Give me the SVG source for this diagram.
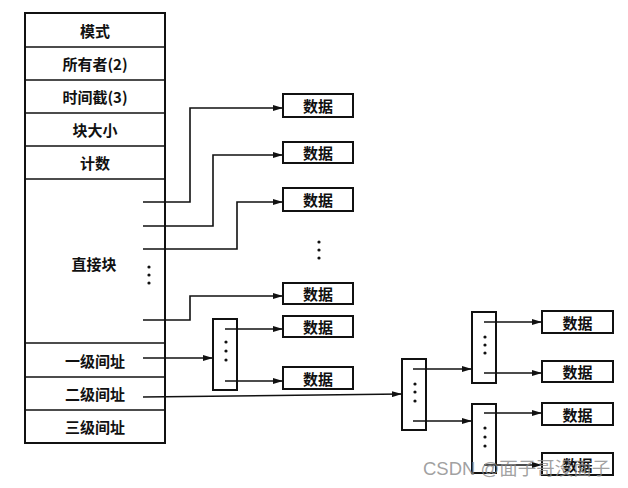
<svg xmlns="http://www.w3.org/2000/svg" width="628" height="488" viewBox="0 0 628 488">
<style>
.box{fill:#fff;stroke:#111;stroke-width:2}
.cell{fill:#fff;stroke:#111;stroke-width:2}
.t{font-family:"Noto Sans CJK SC","Noto Sans",sans-serif;font-size:15px;font-weight:bold;fill:#111;text-anchor:middle;dominant-baseline:central}
.ln{fill:none;stroke:#111;stroke-width:1.6}
.dot{fill:#111}
.wm{font-family:"Liberation Sans","Noto Sans CJK SC",sans-serif;font-size:18.5px;fill:#888;fill-opacity:0.8}
</style>
<defs>
<marker id="ah" viewBox="0 0 10 6" refX="10" refY="3" markerWidth="10" markerHeight="6" markerUnits="userSpaceOnUse" orient="auto">
<path d="M0,0 L10,3 L0,6 Z" fill="#111"/>
</marker>
</defs>
<rect width="628" height="488" fill="#fff"/>

<g id="inode">
<rect class="cell" x="25" y="13" width="140" height="430"/>
<line class="ln" x1="25" y1="47" x2="165" y2="47" stroke-width="2"/>
<line class="ln" x1="25" y1="80" x2="165" y2="80" stroke-width="2"/>
<line class="ln" x1="25" y1="113" x2="165" y2="113" stroke-width="2"/>
<line class="ln" x1="25" y1="146" x2="165" y2="146" stroke-width="2"/>
<line class="ln" x1="25" y1="179" x2="165" y2="179" stroke-width="2"/>
<line class="ln" x1="25" y1="343" x2="165" y2="343" stroke-width="2"/>
<line class="ln" x1="25" y1="377" x2="165" y2="377" stroke-width="2"/>
<line class="ln" x1="25" y1="410" x2="165" y2="410" stroke-width="2"/>
<text class="t" x="95" y="30">模式</text>
<text class="t" x="95" y="63">所有者(2)</text>
<text class="t" x="95" y="96">时间截(3)</text>
<text class="t" x="95" y="129">块大小</text>
<text class="t" x="95" y="162">计数</text>
<text class="t" x="94" y="263">直接块</text>
<circle class="dot" cx="149" cy="267" r="1.6"/>
<circle class="dot" cx="149" cy="275" r="1.6"/>
<circle class="dot" cx="149" cy="283" r="1.6"/>
<text class="t" x="95" y="360">一级间址</text>
<text class="t" x="95" y="393">二级间址</text>
<text class="t" x="95" y="426">三级间址</text>
</g>

<g id="d1"><rect class="box" x="283" y="94" width="70" height="23"/><text class="t" x="318" y="105.5">数据</text></g>
<g id="d2"><rect class="box" x="283" y="142" width="70" height="21"/><text class="t" x="318" y="152.5">数据</text></g>
<g id="d3"><rect class="box" x="283" y="188" width="70" height="23"/><text class="t" x="318" y="199.5">数据</text></g>
<g id="dots-mid">
<circle class="dot" cx="319" cy="242" r="1.6"/>
<circle class="dot" cx="319" cy="250" r="1.6"/>
<circle class="dot" cx="319" cy="258" r="1.6"/>
</g>
<g id="d4"><rect class="box" x="283" y="283" width="70" height="21"/><text class="t" x="318" y="293.5">数据</text></g>
<g id="d5"><rect class="box" x="283" y="316" width="70" height="21"/><text class="t" x="318" y="326.5">数据</text></g>
<g id="d6"><rect class="box" x="283" y="367" width="70" height="22"/><text class="t" x="318" y="378">数据</text></g>

<g id="idx1">
<rect class="box" x="213" y="319" width="24" height="71"/>
<circle class="dot" cx="226" cy="342" r="1.6"/>
<circle class="dot" cx="226" cy="351" r="1.6"/>
<circle class="dot" cx="226" cy="360" r="1.6"/>
</g>
<g id="idxA">
<rect class="box" x="402" y="359" width="24" height="71"/>
<circle class="dot" cx="415" cy="384" r="1.6"/>
<circle class="dot" cx="415" cy="392" r="1.6"/>
<circle class="dot" cx="415" cy="401" r="1.6"/>
</g>
<g id="idxB">
<rect class="box" x="472" y="312" width="24" height="71"/>
<circle class="dot" cx="485" cy="337" r="1.6"/>
<circle class="dot" cx="485" cy="345" r="1.6"/>
<circle class="dot" cx="485" cy="353" r="1.6"/>
</g>
<g id="idxC">
<rect class="box" x="472" y="404" width="24" height="69"/>
<circle class="dot" cx="485" cy="428" r="1.6"/>
<circle class="dot" cx="485" cy="437" r="1.6"/>
<circle class="dot" cx="485" cy="446" r="1.6"/>
</g>

<g id="e1"><rect class="box" x="542" y="311" width="71" height="22"/><text class="t" x="577.5" y="322">数据</text></g>
<g id="e2"><rect class="box" x="542" y="361" width="71" height="21"/><text class="t" x="577.5" y="371.5">数据</text></g>
<g id="e3"><rect class="box" x="542" y="403" width="71" height="22"/><text class="t" x="577.5" y="414">数据</text></g>
<g id="e4"><rect class="box" x="542" y="453" width="71" height="22"/><text class="t" x="577.5" y="464">数据</text></g>

<g id="connectors">
<polyline class="ln" points="143,202 190,202 190,108 283,108" marker-end="url(#ah)"/>
<polyline class="ln" points="143,226 213,226 213,155 283,155" marker-end="url(#ah)"/>
<polyline class="ln" points="143,249 237,249 237,202 283,202" marker-end="url(#ah)"/>
<polyline class="ln" points="143,320 190,320 190,296 283,296" marker-end="url(#ah)"/>
<line class="ln" x1="143" y1="358" x2="213" y2="358" marker-end="url(#ah)"/>
<line class="ln" x1="225" y1="329" x2="283" y2="329" marker-end="url(#ah)"/>
<line class="ln" x1="225" y1="381" x2="283" y2="381" marker-end="url(#ah)"/>
<line class="ln" x1="143" y1="397" x2="402" y2="394" marker-end="url(#ah)"/>
<line class="ln" x1="413" y1="369" x2="472" y2="369" marker-end="url(#ah)"/>
<line class="ln" x1="413" y1="421" x2="472" y2="421" marker-end="url(#ah)"/>
<line class="ln" x1="484" y1="322" x2="542" y2="322" marker-end="url(#ah)"/>
<line class="ln" x1="484" y1="373" x2="542" y2="373" marker-end="url(#ah)"/>
<line class="ln" x1="484" y1="413" x2="542" y2="413" marker-end="url(#ah)"/>
<line class="ln" x1="484" y1="465" x2="542" y2="465" marker-end="url(#ah)"/>
</g>

<text class="wm" x="423" y="475">CSDN @面子哥没面子</text>
</svg>
